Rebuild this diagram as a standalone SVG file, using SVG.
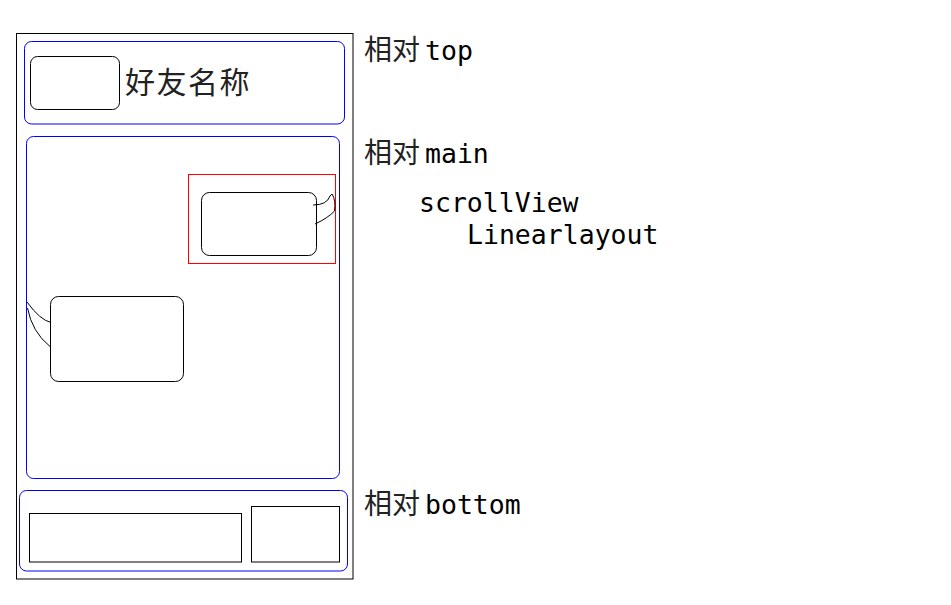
<svg xmlns="http://www.w3.org/2000/svg" width="951" height="605" viewBox="0 0 951 605">
<style>
.k{fill:none;stroke:#000;stroke-width:1}
.b{fill:none;stroke:#0000ff;stroke-width:1}
.r{fill:none;stroke:#ff0000;stroke-width:1}
.cjk{font-family:"Noto Sans CJK SC",sans-serif;fill:#222}
.mono{font-family:"DejaVu Sans Mono","Liberation Mono",monospace;font-size:26.5px;fill:#000}
</style>
<rect width="951" height="605" fill="#fff"/>
<g id="phone"><rect class="k" x="16.5" y="33.5" width="336.5" height="545.5"/></g>
<g id="top">
<rect class="b" x="24.5" y="41.5" width="320" height="82.5" rx="7"/>
<rect class="k" x="30.5" y="56.5" width="89" height="53" rx="7"/>
<text class="cjk" x="125" y="93" font-size="30" letter-spacing="1.5">好友名称</text>
</g>
<g id="main">
<rect class="b" x="26.5" y="136.5" width="313" height="342" rx="7"/>
</g>
<g id="msg-right">
<rect class="r" x="188.5" y="174.5" width="147" height="89"/>
<rect class="k" x="201.5" y="192.5" width="115" height="63" rx="8"/>
<path class="k" d="M313,205 Q327,205 330,196 L332,194 Q336,200 334.5,211 Q328,218 315,224"/>
</g>
<g id="msg-left">
<rect class="k" x="50.5" y="296.5" width="133" height="85" rx="8"/>
<path class="k" d="M27,302 Q40,320 51,322.5 M27.5,308 Q32,332 50,346.5"/>
</g>
<g id="bottom">
<rect class="b" x="19.5" y="490.5" width="328" height="80.5" rx="7"/>
<rect class="k" x="29.5" y="513.5" width="212" height="48.5"/>
<rect class="k" x="251.5" y="506.5" width="88" height="55.5"/>
</g>
<g id="labels">
<text y="60"><tspan class="cjk" x="364" font-size="28">相对</tspan><tspan class="mono" x="425">top</tspan></text>
<text y="163"><tspan class="cjk" x="364" font-size="28">相对</tspan><tspan class="mono" x="425">main</tspan></text>
<text class="mono" x="419" y="212">scrollView</text>
<text class="mono" x="467" y="244">Linearlayout</text>
<text y="514"><tspan class="cjk" x="364" font-size="28">相对</tspan><tspan class="mono" x="425">bottom</tspan></text>
</g>
</svg>
